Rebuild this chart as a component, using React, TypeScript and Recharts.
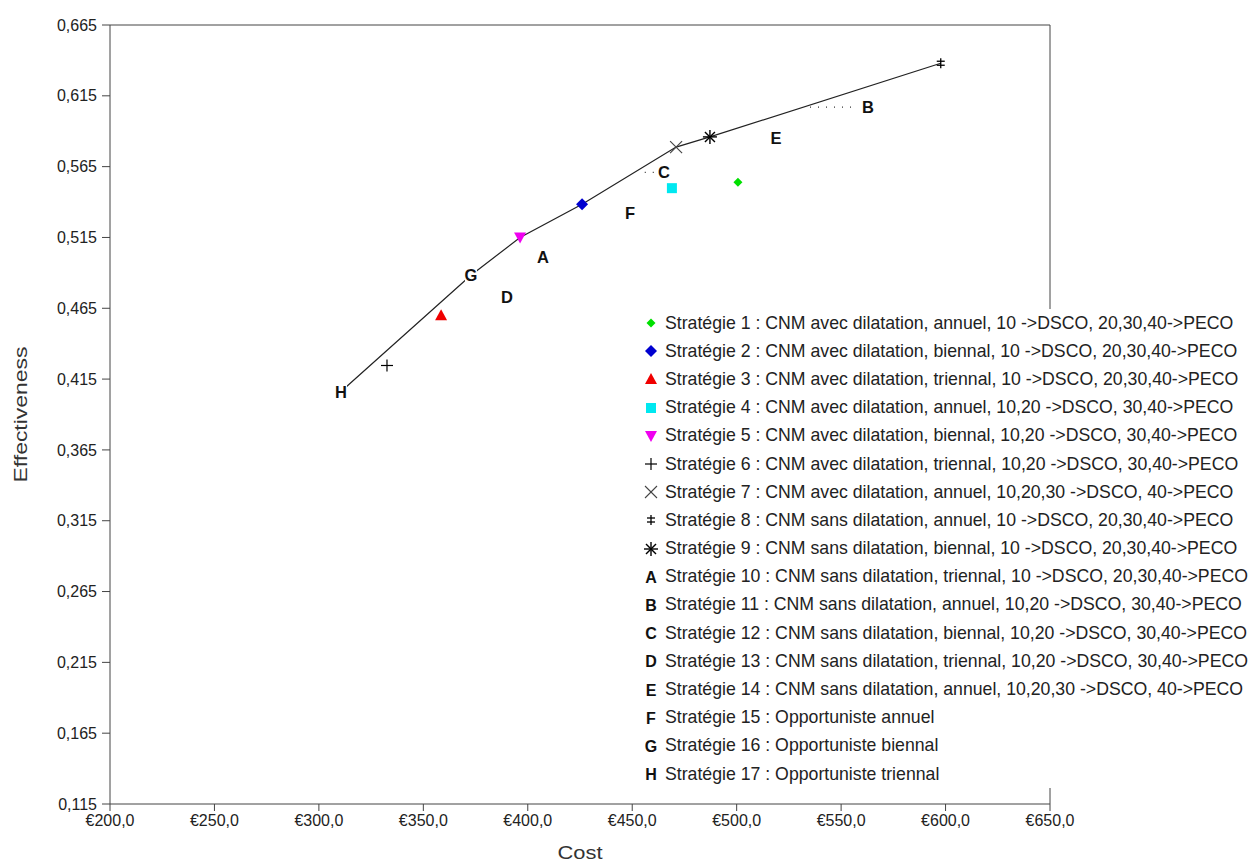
import React from 'react';
import { ScatterChart, Scatter, XAxis, YAxis, ReferenceLine, Legend } from 'recharts';

// ---- data ----
const strategyNames = [
  'Stratégie 1 : CNM avec dilatation, annuel, 10 ->DSCO, 20,30,40->PECO',
  'Stratégie 2 : CNM avec dilatation, biennal, 10 ->DSCO, 20,30,40->PECO',
  'Stratégie 3 : CNM avec dilatation, triennal, 10 ->DSCO, 20,30,40->PECO',
  'Stratégie 4 : CNM avec dilatation, annuel, 10,20 ->DSCO, 30,40->PECO',
  'Stratégie 5 : CNM avec dilatation, biennal, 10,20 ->DSCO, 30,40->PECO',
  'Stratégie 6 : CNM avec dilatation, triennal, 10,20 ->DSCO, 30,40->PECO',
  'Stratégie 7 : CNM avec dilatation, annuel, 10,20,30 ->DSCO, 40->PECO',
  'Stratégie 8 : CNM sans dilatation, annuel, 10 ->DSCO, 20,30,40->PECO',
  'Stratégie 9 : CNM sans dilatation, biennal, 10 ->DSCO, 20,30,40->PECO',
  'Stratégie 10 : CNM sans dilatation, triennal, 10 ->DSCO, 20,30,40->PECO',
  'Stratégie 11 : CNM sans dilatation, annuel, 10,20 ->DSCO, 30,40->PECO',
  'Stratégie 12 : CNM sans dilatation, biennal, 10,20 ->DSCO, 30,40->PECO',
  'Stratégie 13 : CNM sans dilatation, triennal, 10,20 ->DSCO, 30,40->PECO',
  'Stratégie 14 : CNM sans dilatation, annuel, 10,20,30 ->DSCO, 40->PECO',
  'Stratégie 15 : Opportuniste annuel',
  'Stratégie 16 : Opportuniste biennal',
  'Stratégie 17 : Opportuniste triennal',
];
const costs = [500.6, 426.0, 358.5, 469.0, 396.3, 332.6, 471.0, 597.7, 487.2, 407.3, 562.9, 465.2, 390.0, 518.8, 448.9, 372.8, 310.6];
const effects = [0.554, 0.5385, 0.46, 0.5498, 0.515, 0.4246, 0.5788, 0.638, 0.586, 0.501, 0.607, 0.561, 0.4727, 0.585, 0.532, 0.4883, 0.4062];
const markers = ['sdiamond', 'diamond', 'triangle', 'square', 'dtriangle', 'plus', 'cross', 'dplus', 'star', 'A', 'B', 'C', 'D', 'E', 'F', 'G', 'H'];
const colors = ['#00e000', '#0000d0', '#f00000', '#00e8f0', '#f000f0', '#000', '#444', '#000', '#000', '#000', '#000', '#000', '#000', '#000', '#000', '#000', '#000'];
// frontier order (strategy numbers)
const frontierOrder = [17, 16, 5, 2, 7, 9, 8];
// dotted dominance segments
const dotsB = [{ x: 535.1, y: 0.607 }, { x: 556.7, y: 0.607 }];
const dotsC = [{ x: 456.0, y: 0.561 }, { x: 461.5, y: 0.561 }];

const xTicks = [200, 250, 300, 350, 400, 450, 500, 550, 600, 650];
const yTicks = [0.115, 0.165, 0.215, 0.265, 0.315, 0.365, 0.415, 0.465, 0.515, 0.565, 0.615, 0.665];

const frontier = frontierOrder.map((n) => ({ x: costs[n - 1], y: effects[n - 1] }));

const FONT = 'Arial, "Liberation Sans", sans-serif';

function drawMarker(kind: string, color: string, cx: number, cy: number, legend = false) {
  switch (kind) {
    case 'sdiamond':
      return <polygon points={`${cx},${cy - 4.5} ${cx + 4.5},${cy} ${cx},${cy + 4.5} ${cx - 4.5},${cy}`} fill={color} />;
    case 'diamond':
      return <polygon points={`${cx},${cy - 6} ${cx + 6},${cy} ${cx},${cy + 6} ${cx - 6},${cy}`} fill={color} />;
    case 'triangle':
      return <polygon points={`${cx},${cy - 6} ${cx + 6},${cy + 5} ${cx - 6},${cy + 5}`} fill={color} />;
    case 'dtriangle':
      return <polygon points={`${cx - 6},${cy - 5} ${cx + 6},${cy - 5} ${cx},${cy + 6}`} fill={color} />;
    case 'square':
      return <rect x={cx - 5} y={cy - 5} width={10} height={10} fill={color} />;
    case 'plus':
      return (
        <g stroke={color} strokeWidth={1.2}>
          <line x1={cx - 6} y1={cy} x2={cx + 6} y2={cy} />
          <line x1={cx} y1={cy - 6} x2={cx} y2={cy + 6} />
        </g>
      );
    case 'cross':
      return (
        <g stroke={color} strokeWidth={1.1}>
          <line x1={cx - 6} y1={cy - 6} x2={cx + 6} y2={cy + 6} />
          <line x1={cx - 6} y1={cy + 6} x2={cx + 6} y2={cy - 6} />
        </g>
      );
    case 'dplus':
      return (
        <g stroke={color} strokeWidth={1.3}>
          <line x1={cx} y1={cy - 5} x2={cx} y2={cy + 5} />
          <line x1={cx - 4} y1={cy - 2} x2={cx + 4} y2={cy - 2} />
          <line x1={cx - 4} y1={cy + 2} x2={cx + 4} y2={cy + 2} />
        </g>
      );
    case 'star':
      return (
        <g stroke={color} strokeWidth={1.4}>
          <line x1={cx - 7} y1={cy} x2={cx + 7} y2={cy} />
          <line x1={cx} y1={cy - 7} x2={cx} y2={cy + 7} />
          <line x1={cx - 5} y1={cy - 5} x2={cx + 5} y2={cy + 5} />
          <line x1={cx - 5} y1={cy + 5} x2={cx + 5} y2={cy - 5} />
        </g>
      );
    default:
      return (
        <g>
          {!legend && <rect x={cx - 6} y={cy - 7} width={12} height={14} fill="#fff" />}
          <text x={cx} y={cy + 6} textAnchor="middle" fontFamily={FONT} fontWeight="bold" fontSize={legend ? 16 : 16.5} fill="#111">
            {kind}
          </text>
        </g>
      );
  }
}

const makeShape = (i: number) => (props: any) => drawMarker(markers[i], colors[i], props.cx, props.cy);

const LegendContent = () => (
  <div style={{ background: '#fff', fontFamily: FONT, fontSize: 17.7, color: '#222', paddingTop: 0 }}>
    {strategyNames.map((name, i) => (
      <div key={name} style={{ height: 28.19, display: 'flex', alignItems: 'center', whiteSpace: 'nowrap' }}>
        <svg width={16} height={16} style={{ marginLeft: 7, marginRight: 6, flex: 'none' }}>
          {drawMarker(markers[i], colors[i], 8, 8, true)}
        </svg>
        <span>{name}</span>
      </div>
    ))}
  </div>
);

const YLabel = (props: any) => {
  const vb = props.viewBox || { x: 0, y: 0, width: 0, height: 0 };
  const cy = vb.y + vb.height / 2;
  return (
    <text x={27} y={cy} transform={`rotate(-90 27 ${cy})`} textAnchor="middle" fontFamily={FONT} fontSize={19} fill="#333" textLength={136} lengthAdjust="spacingAndGlyphs">
      Effectiveness
    </text>
  );
};

const XLabel = (props: any) => {
  const vb = props.viewBox || { x: 0, y: 0, width: 0, height: 0 };
  return (
    <text x={vb.x + vb.width / 2} y={859} textAnchor="middle" fontFamily={FONT} fontSize={18} fill="#333" textLength={45} lengthAdjust="spacingAndGlyphs">
      Cost
    </text>
  );
};

const fmtX = (v: number) => '€' + v.toFixed(1).replace('.', ',');
const fmtY = (v: number) => v.toFixed(3).replace('.', ',');

export default function App() {
  return (
    <div style={{ position: 'absolute', left: 0, top: 0, width: 1255, height: 867, background: '#fff' }}>
      <ScatterChart width={1255} height={867} margin={{ top: 25, right: 205, bottom: 0, left: 0 }}>
        <XAxis
          type="number"
          dataKey="x"
          domain={[200, 650]}
          ticks={xTicks}
          tickFormatter={fmtX}
          height={63}
          tickSize={7}
          tickMargin={4}
          stroke="#444"
          tick={{ fill: '#222', fontSize: 16, fontFamily: FONT }}
          allowDataOverflow
          label={<XLabel />}
        />
        <YAxis
          type="number"
          dataKey="y"
          domain={[0.115, 0.665]}
          ticks={yTicks}
          tickFormatter={fmtY}
          width={110}
          tickSize={8}
          tickMargin={5}
          stroke="#444"
          tick={{ fill: '#222', fontSize: 16, fontFamily: FONT }}
          allowDataOverflow
          label={<YLabel />}
        />
        <ReferenceLine y={0.665} stroke="#444" />
        <ReferenceLine x={650} stroke="#444" />
        <Scatter data={frontier} line={{ stroke: '#222', strokeWidth: 1.2 }} lineType="joint" shape={() => <g />} isAnimationActive={false} legendType="none" />
        <Scatter data={dotsB} line={{ stroke: '#333', strokeWidth: 1.2, strokeDasharray: '1 7' }} lineType="joint" shape={() => <g />} isAnimationActive={false} legendType="none" />
        <Scatter data={dotsC} line={{ stroke: '#333', strokeWidth: 1.2, strokeDasharray: '1 7' }} lineType="joint" shape={() => <g />} isAnimationActive={false} legendType="none" />
        {costs.map((c, i) => (
          <Scatter
            key={i}
            name={strategyNames[i]}
            data={[{ x: c, y: effects[i] }]}
            shape={makeShape(i)}
            isAnimationActive={false}
          />
        ))}
        <Legend
          layout="vertical"
          align="center"
          verticalAlign="middle"
          content={<LegendContent />}
          wrapperStyle={{ position: 'absolute', left: 636, top: 309, width: 619, background: '#fff' }}
        />
      </ScatterChart>
    </div>
  );
}
